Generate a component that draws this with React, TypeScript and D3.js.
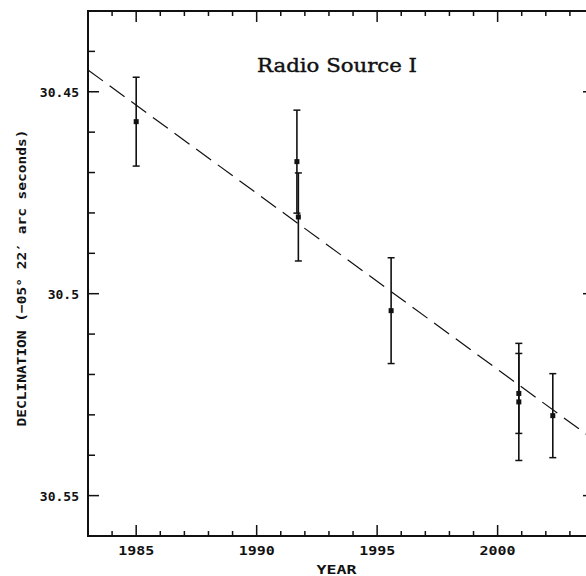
import React from "react";
import * as d3 from "d3";

const years = [1985.0, 1991.67, 1991.73, 1995.58, 2000.88, 2000.88, 2002.29];
const decl = [30.4574, 30.4673, 30.481, 30.5042, 30.5268, 30.5247, 30.5302];
const errs = [0.011, 0.01275, 0.0109, 0.0131, 0.0145, 0.0099, 0.0104];

const fitYears = [1983, 2004];
const fitDecl = [30.4446, 30.5362];

const xMajor = [1985, 1990, 1995, 2000];
const xMajorLabels = ["1985", "1990", "1995", "2000"];
const yMajor = [30.45, 30.5, 30.55];
const yMajorLabels = ["30.45", "30.5", "30.55"];

const W = 586;
const H = 576;
const L = 88, R = 594, T = 11, B = 536;

export default function App() {
  const x = d3.scaleLinear().domain([1983, 2004]).range([L, R]);
  const y = d3.scaleLinear().domain([30.43, 30.56]).range([T, B]);

  const xMinor = d3.range(1983, 2005, 1).filter((v) => v % 5 !== 0);
  const yMinor = d3.range(0, 14).map((i) => +(30.43 + i * 0.01).toFixed(2)).filter((v) => !yMajor.some((m) => Math.abs(m - v) < 1e-6));

  const line = d3.line<number>().x((_, i) => x(fitYears[i])).y((d) => y(d));
  const mono = "'DejaVu Sans Mono', monospace";
  const col = "#111";

  return (
    <svg width={W} height={H} style={{ position: "absolute", left: 0, top: 0, background: "#fff" }}>
      <defs>
        <clipPath id="plot">
          <rect x={L} y={T} width={R - L} height={B - T} />
        </clipPath>
      </defs>
      <rect x={0} y={0} width={W} height={H} fill="#fff" />
      <rect x={L} y={T} width={R - L} height={B - T} fill="none" stroke={col} strokeWidth={2} />
      {xMajor.map((v) => (
        <g key={"xm" + v}>
          <line x1={x(v)} x2={x(v)} y1={B} y2={B - 11} stroke={col} strokeWidth={1.5} />
          <line x1={x(v)} x2={x(v)} y1={T} y2={T + 11} stroke={col} strokeWidth={1.5} />
        </g>
      ))}
      {xMinor.map((v) => (
        <g key={"xn" + v}>
          <line x1={x(v)} x2={x(v)} y1={B} y2={B - 5} stroke={col} strokeWidth={1.5} />
          <line x1={x(v)} x2={x(v)} y1={T} y2={T + 5} stroke={col} strokeWidth={1.5} />
        </g>
      ))}
      {yMajor.map((v) => (
        <g key={"ym" + v}>
          <line x1={L} x2={L + 11} y1={y(v)} y2={y(v)} stroke={col} strokeWidth={1.5} />
          <line x1={R} x2={R - 11} y1={y(v)} y2={y(v)} stroke={col} strokeWidth={1.5} />
        </g>
      ))}
      {yMinor.map((v) => (
        <g key={"yn" + v}>
          <line x1={L} x2={L + 7} y1={y(v)} y2={y(v)} stroke={col} strokeWidth={1.5} />
          <line x1={R} x2={R - 7} y1={y(v)} y2={y(v)} stroke={col} strokeWidth={1.5} />
        </g>
      ))}
      {xMajor.map((v, i) => (
        <text key={"xl" + v} x={x(v)} y={555} textAnchor="middle" fontFamily={mono} fontWeight="bold" fontSize={13} fill={col} textLength={36} lengthAdjust="spacingAndGlyphs">
          {xMajorLabels[i]}
        </text>
      ))}
      {yMajor.map((v, i) => (
        <text key={"yl" + v} x={79} y={y(v) + 5} textAnchor="end" fontFamily={mono} fontWeight="bold" fontSize={13} fill={col}>
          {yMajorLabels[i]}
        </text>
      ))}
      <text x={336.5} y={574} textAnchor="middle" fontFamily={mono} fontWeight="bold" fontSize={13} fill={col} textLength={40} lengthAdjust="spacingAndGlyphs">
        YEAR
      </text>
      <text
        transform={`translate(26,278) rotate(-90)`}
        textAnchor="middle"
        fontFamily={mono}
        fontWeight="bold"
        fontSize={13}
        fill={col}
        textLength={297}
        lengthAdjust="spacingAndGlyphs"
      >
        DECLINATION (−05° 22′ arc seconds)
      </text>
      <text x={337} y={71.5} textAnchor="middle" fontFamily="'DejaVu Serif', serif" fontSize={18} fill={col} stroke={col} strokeWidth={0.4} textLength={160} lengthAdjust="spacingAndGlyphs">
        Radio Source I
      </text>
      <g clipPath="url(#plot)">
        <path d={line(fitDecl) || ""} fill="none" stroke={col} strokeWidth={1.2} strokeDasharray="18.5,8.3" />
      </g>
      {years.map((yr, i) => {
        const cx = x(yr);
        const y0 = y(decl[i] - errs[i]);
        const y1 = y(decl[i] + errs[i]);
        return (
          <g key={"e" + i}>
            <line x1={cx} x2={cx} y1={y0} y2={y1} stroke={col} strokeWidth={1.6} />
            <line x1={cx - 3.5} x2={cx + 3.5} y1={y0} y2={y0} stroke={col} strokeWidth={1.5} />
            <line x1={cx - 3.5} x2={cx + 3.5} y1={y1} y2={y1} stroke={col} strokeWidth={1.5} />
            <rect x={cx - 2.5} y={y(decl[i]) - 2.5} width={5} height={5} fill={col} />
          </g>
        );
      })}
    </svg>
  );
}
